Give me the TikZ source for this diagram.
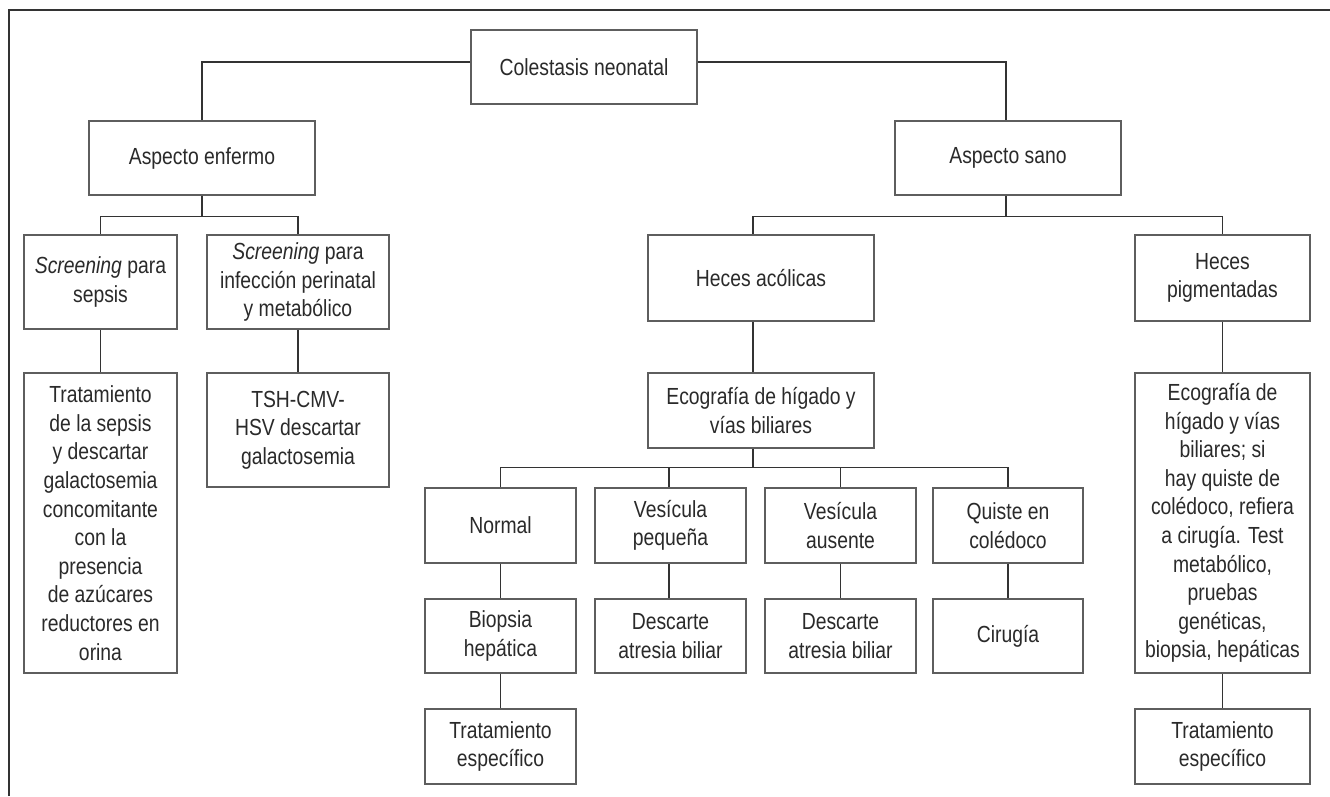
\documentclass[tikz,border=0pt]{standalone}
\usepackage{fontspec}
\setmainfont{Liberation Sans}[FakeStretch=0.83]
\definecolor{txt}{HTML}{2A2A2A}
\definecolor{brd}{HTML}{5E5E5E}
\definecolor{lin}{HTML}{333333}
\newcommand\mybox[6]{\node[box,minimum width={#4-#2},minimum height={#5-#3}] (#1) at ({(#2+#4)/2},{(#3+#5)/2}) {#6};}
\begin{document}
\begin{tikzpicture}[x=1pt,y=-1pt,
  box/.style={draw=brd,line width=1.6pt,fill=white,inner sep=0pt,align=center,text=txt,
    font=\fontsize{23.3}{28.6}\selectfont},
  conn/.style={draw=lin,line width=1.3pt}]
\useasboundingbox (0,0) rectangle (1330,796);
\draw[conn] (9,796) -- (9,10) -- (1330,10);
% level 1-2
\mybox{col}{471}{30}{697}{104}{Colestasis neonatal}
\mybox{enf}{89}{121}{315}{195}{Aspecto enfermo}
\mybox{sano}{895}{121}{1121}{195}{Aspecto sano}
% left branch
\mybox{scrS}{24}{235}{177}{329}{\textit{Screening} para\\sepsis}
\mybox{scrI}{207}{235}{389}{329}{\textit{Screening} para\\infección perinatal\\y metabólico}
\mybox{trS}{24}{373}{177}{673}{Tratamiento\\de la sepsis\\y descartar\\galactosemia\\concomitante\\con la\\presencia\\de azúcares\\reductores en\\orina}
\mybox{tsh}{207}{373}{389}{487}{TSH-CMV-\\HSV descartar\\galactosemia}
% right branch
\mybox{acol}{648}{235}{874}{321}{Heces acólicas}
\mybox{pig}{1135}{235}{1310}{321}{Heces\\pigmentadas}
\mybox{eco}{648}{373}{874}{448}{Ecografía de hígado y\\vías biliares}
\mybox{eco2}{1135}{373}{1310}{673}{Ecografía de\\hígado y vías\\biliares; si\\hay quiste de\\colédoco, refiera\\a cirugía. Test\\metabólico,\\pruebas\\genéticas,\\biopsia, hepáticas}
\mybox{norm}{425}{488}{576}{563}{Normal}
\mybox{vpeq}{595}{488}{746}{563}{Vesícula\\pequeña}
\mybox{vaus}{765}{488}{916}{563}{Vesícula\\ausente}
\mybox{quis}{933}{488}{1083}{563}{Quiste en\\colédoco}
\mybox{biop}{425}{599}{576}{673}{Biopsia\\hepática}
\mybox{desc1}{595}{599}{746}{673}{Descarte\\atresia biliar}
\mybox{desc2}{765}{599}{916}{673}{Descarte\\atresia biliar}
\mybox{cir}{933}{599}{1083}{673}{Cirugía}
\mybox{trat1}{425}{709}{576}{784}{Tratamiento\\específico}
\mybox{trat2}{1135}{709}{1310}{784}{Tratamiento\\específico}
% connectors
\draw[conn] ([yshift=5pt]col.west) -| (enf.north);
\draw[conn] ([yshift=5pt]col.east) -| ([xshift=-2pt]sano.north);
\draw[conn] (enf.south) -- ++(0,21) coordinate (e1);
\draw[conn] (e1) -| (scrS.north);
\draw[conn] (e1) -| (scrI.north);
\draw[conn] (scrS.south) -- (trS.north);
\draw[conn] (scrI.south) -- (tsh.north);
\draw[conn] ([xshift=-2pt]sano.south) -- ++(0,21) coordinate (s1);
\draw[conn] (s1) -| ([xshift=-8pt]acol.north);
\draw[conn] (s1) -| (pig.north);
\draw[conn] ([xshift=-8pt]acol.south) -- ([xshift=-8pt]eco.north);
\draw[conn] (pig.south) -- (eco2.north);
\draw[conn] (eco2.south) -- (trat2.north);
\draw[conn] ([xshift=-8pt]eco.south) -- ++(0,19) coordinate (c1);
\draw[conn] (c1) -| (norm.north);
\draw[conn] (c1) -| ([xshift=-1.5pt]vpeq.north);
\draw[conn] (c1) -| (vaus.north);
\draw[conn] (c1) -| (quis.north);
\draw[conn] (norm.south) -- (biop.north);
\draw[conn] (biop.south) -- (trat1.north);
\draw[conn] ([xshift=-1.5pt]vpeq.south) -- ([xshift=-1.5pt]desc1.north);
\draw[conn] (vaus.south) -- (desc2.north);
\draw[conn] (quis.south) -- (cir.north);
\end{tikzpicture}
\end{document}
